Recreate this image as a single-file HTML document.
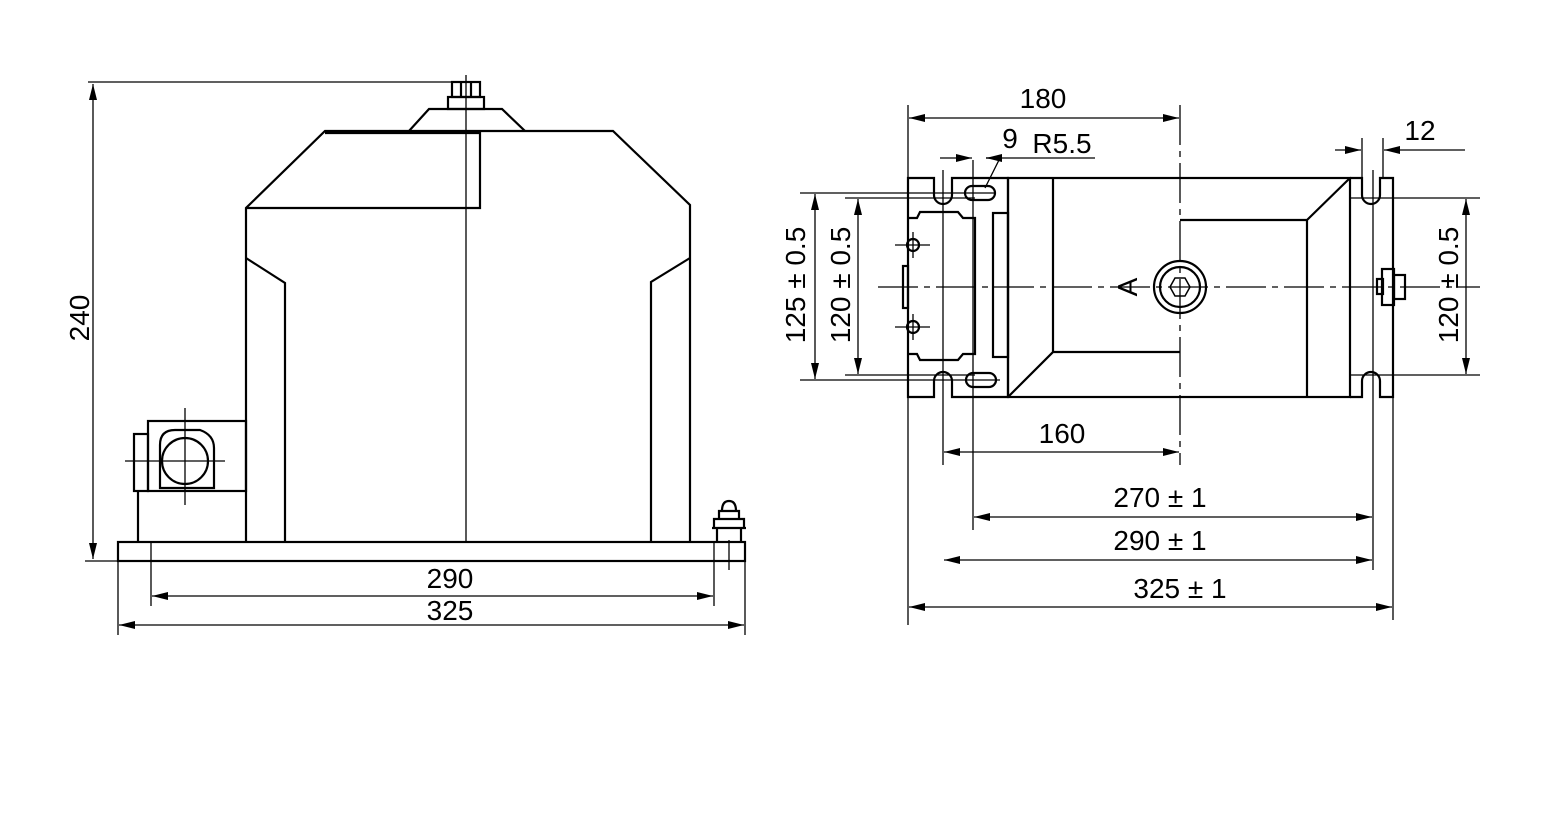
<!DOCTYPE html>
<html><head><meta charset="utf-8"><style>html,body{margin:0;background:#fff}</style></head><body>
<svg width="1554" height="812" viewBox="0 0 1554 812" xmlns="http://www.w3.org/2000/svg" font-family="Liberation Sans, DejaVu Sans, sans-serif">
<defs><marker id="a" markerWidth="16" markerHeight="8" refX="16" refY="4" orient="auto-start-reverse" markerUnits="userSpaceOnUse"><path d="M0,0 L16,4 L0,8z" fill="#000"/></marker></defs>
<g fill="none" stroke="#000" stroke-width="2.2">
<rect x="118" y="542" width="627" height="19"/>
<path d="M246,542 V208 L325,131 H613 L690,205 V542"/>
<path d="M285,542 V283 L246,258 M651,542 V282 L690,258"/>
<path d="M325,133 H480 V208 H246"/>
<path d="M409,131 L429,109 H502 L525,131"/>
<rect x="448" y="97" width="36" height="12"/>
<rect x="452" y="82" width="28" height="15"/>
<path d="M461,82 V97 M471,82 V97"/>
<rect x="148" y="421" width="98" height="70"/>
<rect x="134" y="434" width="14" height="57"/>
<path d="M138,491 V542"/>
<path d="M160,488 V445 Q160,430 175,430 H200 Q214,435 214,448 V488 Z"/>
<circle cx="185" cy="461" r="23"/>
<path d="M717,542 V528 M741,542 V528 M712,528 H746 M714,519 H744 V528 H714Z M719,519 V511 H739 V519 M722,511 Q722,501 729,501 Q736,501 736,511"/>
<path d="M908,178 H934 V195 A9,9 0 0 0 952,195 V178 H1008 V397 H952 V381 A9,9 0 0 0 934,381 V397 H908 Z"/>
<rect x="1008" y="178" width="342" height="219"/>
<path d="M1053,178 V352 L1008,397 M1053,352 H1180 M1180,220 H1307 V397 M1307,220 L1350,178"/>
<path d="M1350,178 H1362 V195 A9,9 0 0 0 1380,195 V178 H1393 V397 H1380 V381 A9,9 0 0 0 1362,381 V397 H1350"/>
<rect x="1382" y="269" width="12" height="36"/><rect x="1377" y="279" width="6" height="15"/><rect x="1394" y="275" width="11" height="24"/>
<rect x="993" y="213" width="15" height="144"/>
<path d="M908,218 H917 L920,212 H958 L963,218 H975 V354 H963 L958,360 H920 L917,354 H908"/>
<rect x="903" y="266" width="5" height="42"/>
<circle cx="913" cy="245" r="6"/><circle cx="913" cy="327" r="6"/>
<rect x="965" y="186" width="30" height="14" rx="7"/>
<rect x="966" y="373" width="30" height="14" rx="7"/>
<circle cx="1180" cy="287" r="26"/><circle cx="1180" cy="287" r="20"/>
<path d="M1170,287 L1175,278 H1185 L1190,287 L1185,296 H1175Z" stroke-width="1.5"/>
</g>
<g fill="none" stroke="#000" stroke-width="1.3">
<path d="M466,75 V542 M88,82 H466 M85,561 H118"/>
<path d="M93,84 V559" marker-start="url(#a)" marker-end="url(#a)"/>
<path d="M118,561 V635 M151,542 V606 M714,542 V606 M745,561 V635 M729,540 V570"/>
<path d="M152,596 H713" marker-start="url(#a)" marker-end="url(#a)"/>
<path d="M119,625 H744" marker-start="url(#a)" marker-end="url(#a)"/>
<path d="M125,461 H225 M185,408 V505"/>
<path d="M878,287 H1480" stroke-dasharray="40,6,6,6"/>
<path d="M1180,105 V465" stroke-dasharray="40,6,6,6"/>
<path d="M908,105 V178 M908,397 V625 M943,170 V465 M973,160 V530 M1373,170 V570 M1393,397 V620 M1362,138 V178 M1383,138 V178"/>
<path d="M909,118 H1179" marker-start="url(#a)" marker-end="url(#a)"/>
<path d="M940,158 H972" marker-end="url(#a)"/><path d="M1000,158 H986" marker-end="url(#a)"/>
<path d="M986,158 H1095"/><path d="M1000,158 L985,188"/>
<path d="M1335,150 H1361" marker-end="url(#a)"/><path d="M1465,150 H1384" marker-end="url(#a)"/>
<path d="M800,193 H995 M845,198 H975 M800,380 H1000 M845,375 H975 M1350,198 H1480 M1350,375 H1480"/>
<path d="M815,194 V379" marker-start="url(#a)" marker-end="url(#a)"/>
<path d="M858,199 V374" marker-start="url(#a)" marker-end="url(#a)"/>
<path d="M1466,199 V374" marker-start="url(#a)" marker-end="url(#a)"/>
<path d="M944,452 H1179" marker-start="url(#a)" marker-end="url(#a)"/>
<path d="M974,517 H1372" marker-start="url(#a)" marker-end="url(#a)"/>
<path d="M944,560 H1372" marker-start="url(#a)" marker-end="url(#a)"/>
<path d="M909,607 H1392" marker-start="url(#a)" marker-end="url(#a)"/>
<path d="M895,245 H930 M913,232 V258 M895,327 H930 M913,314 V340"/>
</g>
<g font-size="28" fill="#000" text-anchor="middle">
<text transform="translate(89,318) rotate(-90)">240</text>
<text x="450" y="588">290</text>
<text x="450" y="620">325</text>
<text x="1043" y="108">180</text>
<text x="1010" y="148">9</text>
<text x="1062" y="153">R5.5</text>
<text x="1420" y="140">12</text>
<text transform="translate(805,285) rotate(-90)">125 ± 0.5</text>
<text transform="translate(850,285) rotate(-90)">120 ± 0.5</text>
<text transform="translate(1458,285) rotate(-90)">120 ± 0.5</text>
<text transform="translate(1137,287) rotate(-90)">A</text>
<text x="1062" y="443">160</text>
<text x="1160" y="507">270 ± 1</text>
<text x="1160" y="550">290 ± 1</text>
<text x="1180" y="598">325 ± 1</text>
</g>
</svg>
</body></html>
